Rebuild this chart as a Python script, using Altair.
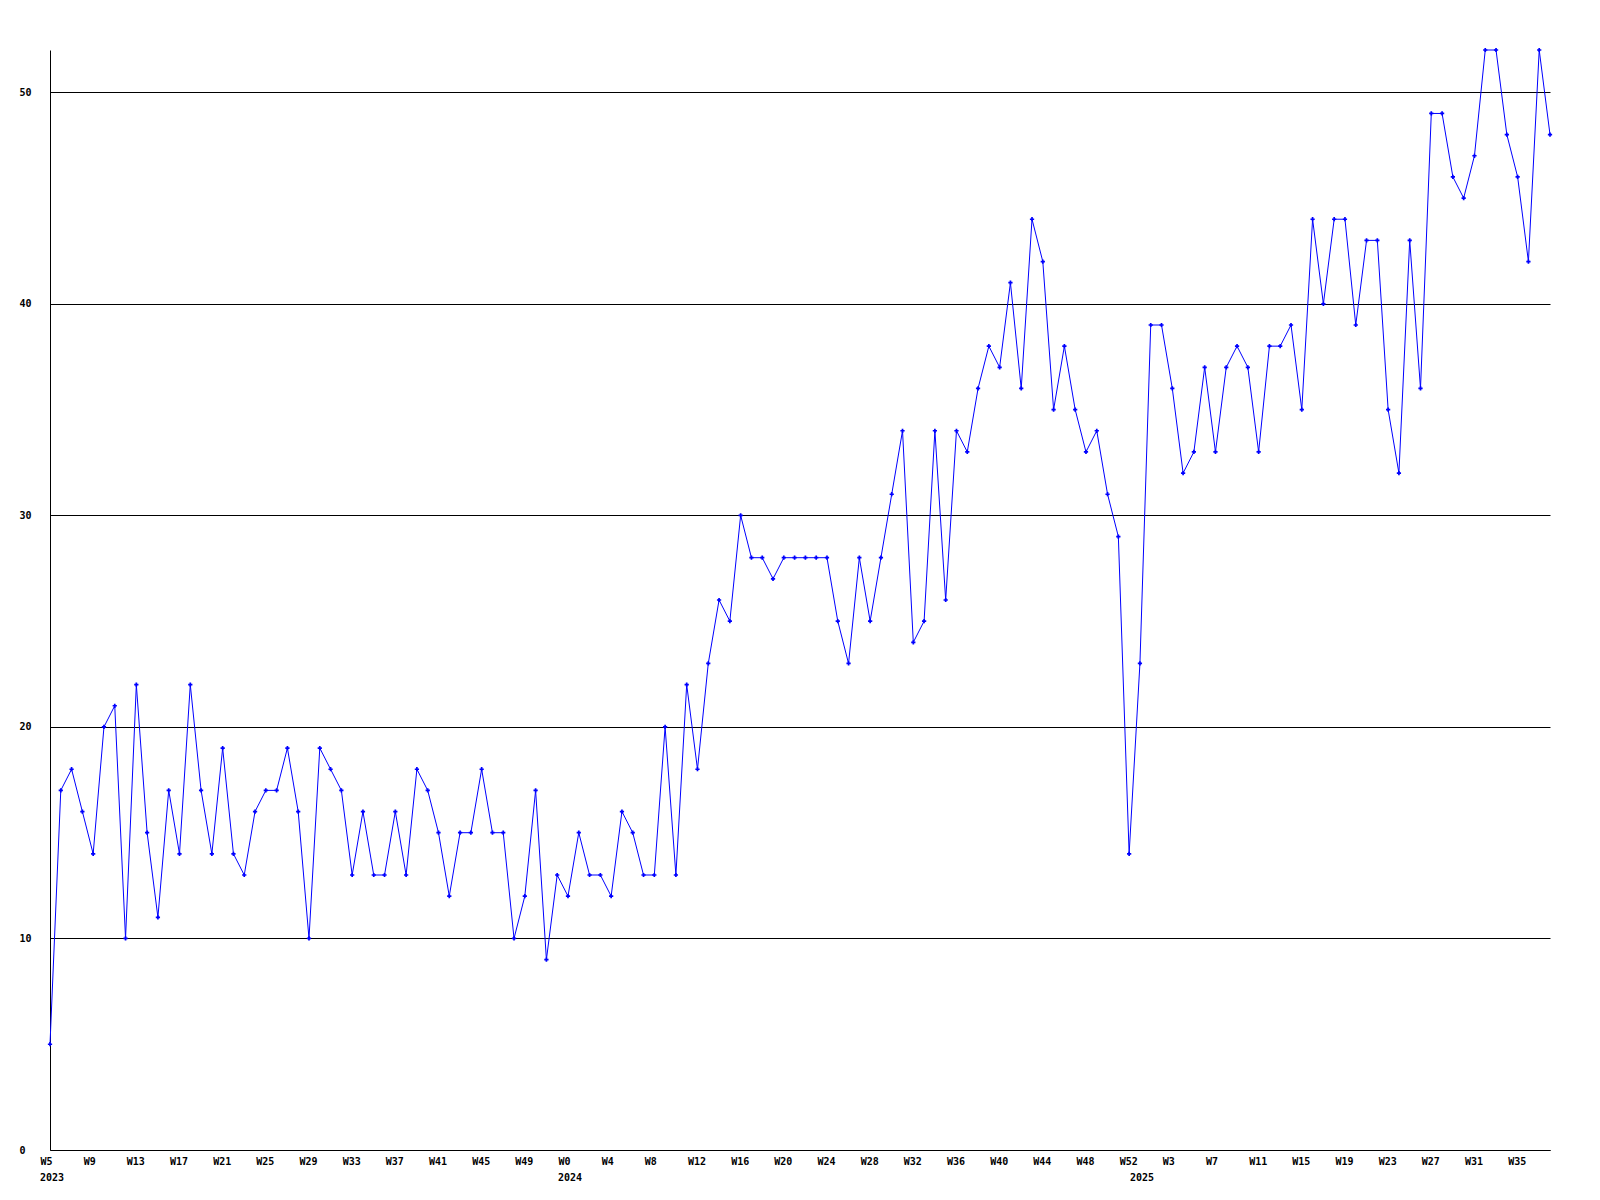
import altair as alt
import pandas as pd

# Weekly values, W5 2023 .. W38 2025 (one point per week)
values = [
    5, 17, 18, 16, 14, 20, 21, 10, 22, 15, 11, 17, 14, 22, 17, 14, 19, 14, 13, 16,
    17, 17, 19, 16, 10, 19, 18, 17, 13, 16, 13, 13, 16, 13, 18, 17, 15, 12, 15, 15,
    18, 15, 15, 10, 12, 17, 9, 13, 12, 15, 13, 13, 12, 16, 15, 13, 13, 20, 13, 22,
    18, 23, 26, 25, 30, 28, 28, 27, 28, 28, 28, 28, 28, 25, 23, 28, 25, 28, 31, 34,
    24, 25, 34, 26, 34, 33, 36, 38, 37, 41, 36, 44, 42, 35, 38, 35, 33, 34, 31, 29,
    14, 23, 39, 39, 36, 32, 33, 37, 33, 37, 38, 37, 33, 38, 38, 39, 35, 44, 40, 44,
    44, 39, 43, 43, 35, 32, 43, 36, 49, 49, 46, 45, 47, 52, 52, 48, 46, 42, 52, 48,
]

# Tick labels, one every 4th week
week_labels = [
    "W5", "W9", "W13", "W17", "W21", "W25", "W29", "W33", "W37", "W41", "W45", "W49",
    "W0", "W4", "W8", "W12", "W16", "W20", "W24", "W28", "W32", "W36", "W40", "W44", "W48", "W52",
    "W3", "W7", "W11", "W15", "W19", "W23", "W27", "W31", "W35",
]
label_step = 4

# Year labels and the index of the first week of each year
years = ["2023", "2024", "2025"]
year_start = [0, 48, 101]

y_ticks = [0, 10, 20, 30, 40, 50]

W, H = 1500, 1100
FONT = "DejaVu Sans Mono"
BLUE = "#0000ff"

df = pd.DataFrame({"i": list(range(len(values))), "v": values})
ydf = pd.DataFrame({"i": year_start, "year": years})

tick_vals = [k * label_step for k in range(len(week_labels))]
label_expr = "[" + ",".join("'" + s + "'" for s in week_labels) + "][round(datum.value / %d)]" % label_step

xscale = alt.Scale(domain=[0, len(values) - 1], nice=False, zero=False)
yscale = alt.Scale(domain=[0, 52], nice=False)

xaxis = alt.Axis(
    values=tick_vals, labelExpr=label_expr, title=None, grid=False,
    ticks=False, tickSize=0, domainColor="black", domainWidth=1,
    labelAlign="left", labelOffset=-10, labelBaseline="middle", labelPadding=11,
    labelFont=FONT, labelFontSize=10, labelFontWeight="bold", labelColor="black",
    labelOverlap=False, labelFlush=False, labelBound=False,
)
yaxis = alt.Axis(
    values=y_ticks, title=None, grid=True, gridColor="black", gridWidth=1, gridOpacity=1,
    ticks=False, tickSize=0, domainColor="black", domainWidth=1,
    labelAlign="left", labelBaseline="middle", labelPadding=31,
    labelFont=FONT, labelFontSize=10, labelFontWeight="bold", labelColor="black",
    labelOverlap=False,
)

base = alt.Chart(df)

line = base.mark_line(color=BLUE, strokeWidth=1).encode(
    x=alt.X("i:Q", scale=xscale, axis=xaxis),
    y=alt.Y("v:Q", scale=yscale, axis=yaxis),
)

pts = base.mark_point(shape="cross", filled=True, color=BLUE, size=18, opacity=1).encode(
    x=alt.X("i:Q", scale=xscale),
    y=alt.Y("v:Q", scale=yscale),
)

year_text = alt.Chart(ydf).mark_text(
    align="left", baseline="middle", dx=-10, font=FONT, fontSize=10,
    fontWeight="bold", color="black",
).encode(
    x=alt.X("i:Q", scale=xscale),
    y=alt.value(H + 28),
    text="year:N",
)

chart = alt.layer(line, pts, year_text).properties(
    width=W, height=H,
    autosize=alt.AutoSizeParams(type="none"),
    padding={"left": 42, "top": 42, "right": 30, "bottom": 40},
    background="white",
).configure_view(stroke=None)

chart.save("out.html", embed_options={"renderer": "svg", "actions": False})
